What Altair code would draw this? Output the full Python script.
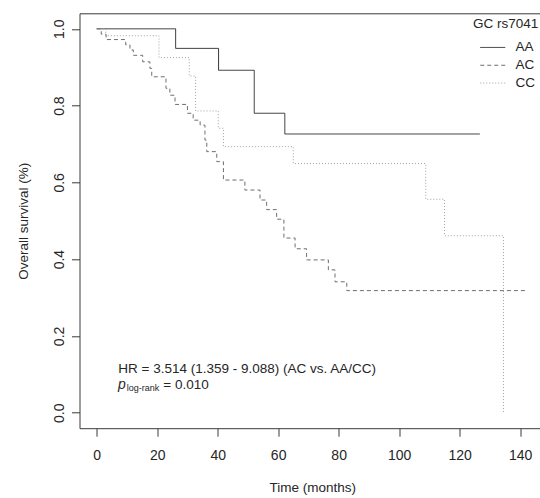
import altair as alt
import pandas as pd

# ---------------- data ----------------
groups = ["AA", "AC", "CC"]

aa_time = [0, 26.1, 40.3, 52.1, 62.2, 126.7]
aa_surv = [1.0, 0.949, 0.892, 0.780, 0.726, 0.726]

ac_time = [0, 1.5, 3.1, 9.6, 11.0, 12.1, 15.2, 17.6, 18.2, 22.9, 24.2, 25.9, 30.0,
           31.9, 34.2, 35.8, 36.4, 39.7, 41.9, 49.0, 54.0, 56.2, 59.5, 61.9, 65.6,
           69.4, 76.6, 78.8, 82.7, 142.6]
ac_surv = [1.0, 0.986, 0.972, 0.958, 0.945, 0.931, 0.914, 0.897, 0.875, 0.845, 0.827,
           0.803, 0.780, 0.762, 0.749, 0.710, 0.680, 0.654, 0.606, 0.580, 0.554, 0.529,
           0.504, 0.455, 0.427, 0.398, 0.372, 0.341, 0.318, 0.318]

cc_time = [0, 3.0, 20.6, 30.6, 32.7, 40.2, 41.9, 65.0, 108.8, 115.0, 134.5]
cc_surv = [1.0, 0.982, 0.925, 0.877, 0.786, 0.741, 0.693, 0.649, 0.556, 0.461, 0.0]

x_ticks = [0, 20, 40, 60, 80, 100, 120, 140]
y_ticks = [0.0, 0.2, 0.4, 0.6, 0.8, 1.0]

legend_title = "GC rs7041"
x_title = "Time (months)"
y_title = "Overall survival (%)"
hr_text = ["HR = 3.514 (1.359 - 9.088) (AC vs. AA/CC)"]
p_main = ["p"]
p_sub = ["log-rank"]
p_value = ["= 0.010"]

# ---------------- table ----------------
rows = []
for g, ts, ss in [("AA", aa_time, aa_surv), ("AC", ac_time, ac_surv), ("CC", cc_time, cc_surv)]:
    for t, s in zip(ts, ss):
        rows.append({"time": t, "surv": s, "group": g})
df = pd.DataFrame(rows)

# ---------------- style ----------------
FONT = "Liberation Sans"
TXT = "#262626"
AX = "#3a3a3a"
line_colors = ["#2e2e2e", "#6e6e6e", "#a0a0a0"]
line_dashes = [[1, 0], [4, 3], [1, 2]]

W = 460.5
H = 414.9
x_scale = alt.Scale(domain=[-5.69, 146.59], nice=False, zero=False)
y_scale = alt.Scale(domain=[-0.0404, 1.0404], nice=False, zero=False)

x_axis = alt.Axis(values=x_ticks, format="d", grid=False,
                  domainColor=AX, domainWidth=1, tickColor=AX, tickSize=8, tickWidth=1,
                  labelFont=FONT, labelFontSize=14, labelColor=TXT,
                  labelBaseline="alphabetic", labelPadding=23.8,
                  labelFlush=False, labelOverlap=False,
                  title=x_title, titleFont=FONT, titleFontSize=13.5, titleFontWeight="normal",
                  titleColor=TXT, titleBaseline="alphabetic", titleAlign="center",
                  titleX=232.8, titleY=63.8)

y_axis = alt.Axis(values=y_ticks, format=".1f", grid=False,
                  domainColor=AX, domainWidth=1, tickColor=AX, tickSize=8, tickWidth=1,
                  labelFont=FONT, labelFontSize=14, labelColor=TXT,
                  labelAngle=270, labelAlign="center", labelBaseline="alphabetic",
                  labelPadding=8.2, labelFlush=False, labelOverlap=False,
                  title=y_title, titleFont=FONT, titleFontSize=13.5, titleFontWeight="normal",
                  titleColor=TXT, titleAngle=270, titleAlign="center",
                  titleBaseline="alphabetic", titleX=-52, titleY=H / 2)

top_axis = alt.Axis(orient="top", labels=False, ticks=False, grid=False, domain=True,
                    domainColor=AX, domainWidth=1, title=None)

# long horizontal line symbol drawn from a small symbol size, so rows stay compact
leg = alt.Legend(title=legend_title, orient="none", legendX=393.5, legendY=3.9, padding=0,
                 titleFont=FONT, titleFontSize=13.5, titleFontWeight="normal",
                 titleColor=TXT, titlePadding=10,
                 labelFont=FONT, labelFontSize=13.5, labelColor=TXT, labelOffset=16,
                 symbolType="M-5,0H5", symbolSize=25, symbolStrokeWidth=1,
                 symbolOffset=13, rowPadding=2.8)

lines = alt.Chart(df).mark_line(interpolate="step-after", strokeWidth=1, clip=True).encode(
    x=alt.X("time:Q", scale=x_scale, axis=x_axis),
    y=alt.Y("surv:Q", scale=y_scale, axis=y_axis),
    color=alt.Color("group:N", scale=alt.Scale(domain=groups, range=line_colors), legend=leg),
    strokeDash=alt.StrokeDash("group:N", scale=alt.Scale(domain=groups, range=line_dashes), legend=leg),
)

frame = alt.Chart(df).mark_line(opacity=0).encode(
    x=alt.X("time:Q", scale=x_scale, axis=top_axis),
    y=alt.Y("surv:Q", scale=y_scale, axis=None),
)

hr = alt.Chart(pd.DataFrame({"t": hr_text})).mark_text(
    align="left", baseline="alphabetic", font=FONT, fontSize=13.5, color=TXT
).encode(x=alt.value(38.8), y=alt.value(359.8), text="t:N")

pm = alt.Chart(pd.DataFrame({"t": p_main})).mark_text(
    align="left", baseline="alphabetic", font=FONT, fontSize=14, fontStyle="italic", color=TXT
).encode(x=alt.value(38.6), y=alt.value(375.6), text="t:N")

ps = alt.Chart(pd.DataFrame({"t": p_sub})).mark_text(
    align="left", baseline="alphabetic", font=FONT, fontSize=9, color=TXT
).encode(x=alt.value(47.2), y=alt.value(377.3), text="t:N")

pv = alt.Chart(pd.DataFrame({"t": p_value})).mark_text(
    align="left", baseline="alphabetic", font=FONT, fontSize=13.5, color=TXT
).encode(x=alt.value(83.8), y=alt.value(375.6), text="t:N")

chart = alt.layer(lines, frame, hr, pm, ps, pv).resolve_axis(
    x="independent", y="independent"
).properties(
    width=W, height=H,
    padding={"left": 79.5, "top": 13.3, "right": 0, "bottom": 69.8},
    autosize=alt.AutoSizeParams(type="none"),
    background="white",
).configure_view(stroke=None)

chart.save("out.html", embed_options={"renderer": "svg", "actions": False})
